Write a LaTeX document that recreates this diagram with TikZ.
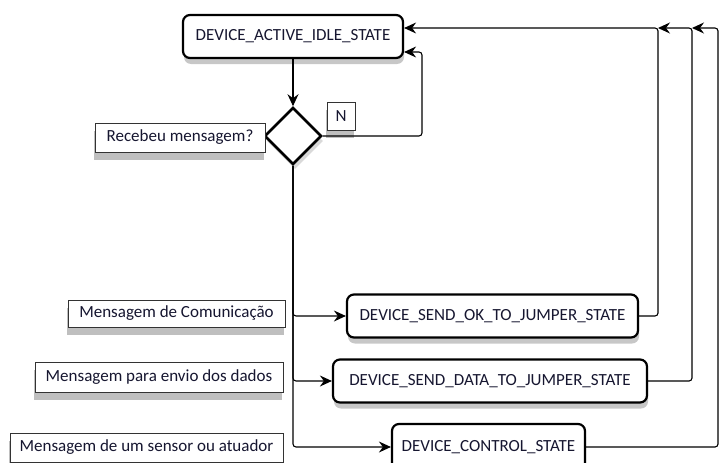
\documentclass[tikz,border=0pt]{standalone}
\usepackage{fontspec}
\setmainfont{Carlito}
\usetikzlibrary{shapes.geometric,arrows.meta,shadows}
\definecolor{textdark}{RGB}{22,22,48}

\begin{document}
\begin{tikzpicture}[x=1pt,y=-1pt,
        statebox/.style={
            draw=black,
            line width=2.2pt,
            rounded corners=7pt,
            fill=white,
            text=textdark,
            font=\fontsize{17}{19}\selectfont,
            minimum height=43pt, % Same height for all states
            inner sep=0pt,
            drop shadow={shadow xshift=1pt, shadow yshift=-6pt, fill=black, opacity=0.22}
        },
        labelbox/.style={
            draw=black!80,
            line width=0.9pt,
            fill=white,
            text=textdark,
            font=\fontsize{17}{19}\selectfont,
            inner sep=0pt,
            drop shadow={shadow xshift=-1pt, shadow yshift=-8pt, fill=black, opacity=0.25}
        },
        decision/.style={
            diamond,
            aspect=1,
            draw=black,
            line width=2.6pt,
            fill=white,
            minimum size=57pt,
            inner sep=0pt,
            drop shadow={shadow xshift=2pt, shadow yshift=-5pt, fill=black, opacity=0.15}
        },
        flowline/.style={
            draw=black,
            line width=1.1pt,
            rounded corners=3pt,
            -{Stealth[length=12pt,width=11pt,inset=4pt]}
        }
    ]

% Page frame, the last state box is cut at the bottom
\clip (0,0) rectangle (720,463);

% States
\node[statebox, minimum width=220pt] (idle) at (293,36.5) {DEVICE\_ACTIVE\_IDLE\_STATE};
\node[statebox, minimum width=291pt] (sendok) at (492.5,316) {DEVICE\_SEND\_OK\_TO\_JUMPER\_STATE};
\node[statebox, minimum width=314pt] (senddata) at (490,381) {DEVICE\_SEND\_DATA\_TO\_JUMPER\_STATE};
\node[statebox, minimum width=193pt, minimum height=46pt] (control) at (488.5,447) {DEVICE\_CONTROL\_STATE};

% Decision and its labels
\node[decision] (dec) at (293,136) {};
\node[labelbox, minimum width=170pt, minimum height=29pt] (recv) at (180,137.5) {Recebeu mensagem?};
\node[labelbox, minimum width=28pt, minimum height=28pt] (no) at (341,116) {N};

% Message labels
\node[labelbox, minimum width=217pt, minimum height=27pt] (msgcom) at (176.5,313.5) {Mensagem de Comunicação};
\node[labelbox, minimum width=248pt, minimum height=30pt] (msgenv) at (159,377) {Mensagem para envio dos dados};
\node[labelbox, minimum width=273pt, minimum height=29pt] (msgsen) at (146.5,447.5) {Mensagem de um sensor ou atuador};

% Corners of the return lines
\coordinate (nloop) at (422,52);
\coordinate (okup) at (658,28);
\coordinate (dataup) at (692,28);
\coordinate (ctrlup) at (718,28);

% Flow
\draw[flowline] (idle.south) -- (dec.north);
\draw[flowline] (dec.east) -| (nloop) -- ([yshift=-15.5pt]idle.east);
\draw[flowline] (dec.south) |- (sendok.west);
\draw[flowline] (dec.south) |- (senddata.west);
\draw[flowline] (dec.south) |- (control.west);

% Back to the idle state
\draw[flowline] (sendok.east) -| (okup) -- ([yshift=8.5pt]idle.east);
\draw[flowline] (senddata.east) -| (dataup) -- (okup);
\draw[flowline] (control.east) -| (ctrlup) -- (dataup);

\end{tikzpicture}
\end{document}
